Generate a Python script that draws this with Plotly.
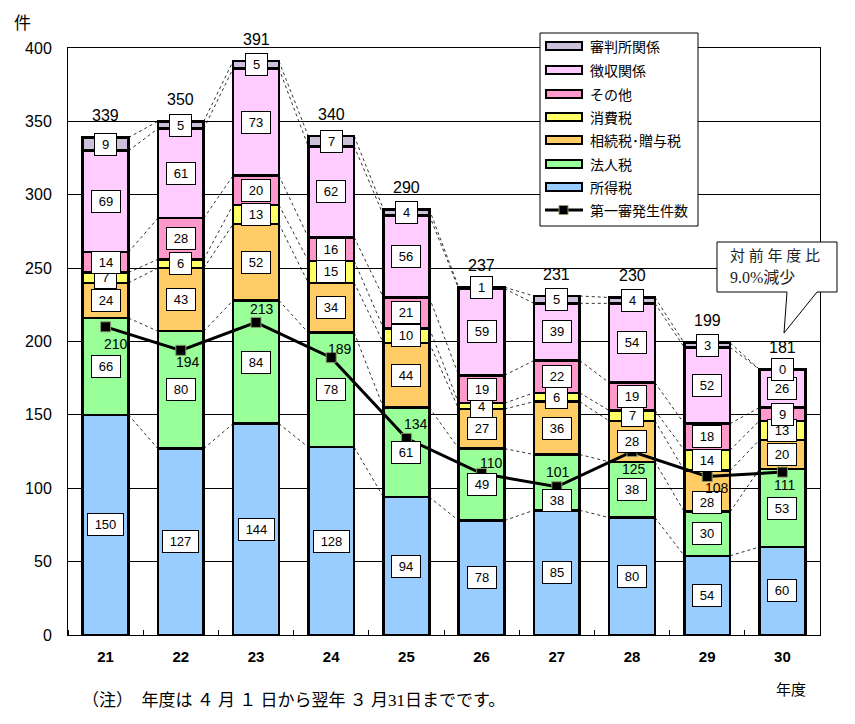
import plotly.graph_objects as go

years = ["21", "22", "23", "24", "25", "26", "27", "28", "29", "30"]
shotoku = [150, 127, 144, 128, 94, 78, 85, 80, 54, 60]
hojin = [66, 80, 84, 78, 61, 49, 38, 38, 30, 53]
sozoku = [24, 43, 52, 34, 44, 27, 36, 28, 28, 20]
shohi = [7, 6, 13, 15, 10, 4, 6, 7, 14, 13]
sonota = [14, 28, 20, 16, 21, 19, 22, 19, 18, 9]
choshu = [69, 61, 73, 62, 56, 59, 39, 54, 52, 26]
shinpan = [9, 5, 5, 7, 4, 1, 5, 4, 3, 0]
totals = [339, 350, 391, 340, 290, 237, 231, 230, 199, 181]
first_instance = [210, 194, 213, 189, 134, 110, 101, 125, 108, 111]
line_name = "第一審発生件数"

series = [
    ("所得税", shotoku, "#99CCFF"),
    ("法人税", hojin, "#99FF99"),
    ("相続税･贈与税", sozoku, "#FFCC66"),
    ("消費税", shohi, "#FFFF66"),
    ("その他", sonota, "#FF99CC"),
    ("徴収関係", choshu, "#FFCCFF"),
    ("審判所関係", shinpan, "#CCC0DA"),
]

# pixel offsets for the line value labels
line_label_shift = [(10, -17), (7, -12), (6, 13), (9, 9), (10, 14),
                    (10, 11), (1, 15), (2, -17), (10, -11), (2, -13)]
# manual vertical nudges (px, negative = down) of some boxed labels: (series index, year index)
label_nudge = {(1, 6): -18, (2, 8): -11}

BAR_W = 0.61
xs = list(range(len(years)))
label_font = dict(family="Liberation Sans, Arial, Noto Sans CJK JP", size=13, color="#000")
PLOT_L, PLOT_T, PLOT_W, PLOT_H = 68, 48, 752, 587


def px(x):
    return (x - PLOT_L) / PLOT_W


def py(y):
    return (PLOT_T + PLOT_H - y) / PLOT_H


fig = go.Figure()
for name, vals, col in series:
    fig.add_trace(go.Bar(
        x=xs, y=vals, name=name, width=BAR_W,
        marker=dict(color=col, line=dict(color="black", width=2.5)),
        hoverinfo="y+name", showlegend=False,
    ))

fig.add_trace(go.Scatter(
    x=xs, y=first_instance, name=line_name, mode="lines+markers",
    line=dict(color="black", width=3),
    marker=dict(symbol="square", size=10, color="black", line=dict(color="#8a9a6a", width=1)),
    showlegend=False,
))

annotations = []
shapes = []

# value labels in white boxes
cum = [0] * len(years)
cum_bounds = []
for si, (name, vals, col) in enumerate(series):
    for i, v in enumerate(vals):
        mid = cum[i] + v / 2
        s = str(v)
        annotations.append(dict(
            x=i, y=mid, text=s, showarrow=False, font=label_font,
            yshift=label_nudge.get((si, i), 0),
            width=7 * len(s) + 8,
            bgcolor="white", bordercolor="black", borderwidth=1, borderpad=3,
        ))
        cum[i] += v
    cum_bounds.append(list(cum))

# dotted series lines between bars
for bounds in cum_bounds:
    for i in range(len(years) - 1):
        shapes.append(dict(
            type="line", xref="x", yref="y",
            x0=i + BAR_W / 2, y0=bounds[i], x1=i + 1 - BAR_W / 2, y1=bounds[i + 1],
            line=dict(color="#333", width=1, dash="dot"), layer="below",
        ))

# totals
for i, t in enumerate(totals):
    annotations.append(dict(
        x=i, y=t, text=str(t), showarrow=False, yshift=22,
        font=dict(family="Liberation Sans, Arial", size=16, color="#000"),
    ))

# line labels
for i, v in enumerate(first_instance):
    dx, dy = line_label_shift[i]
    annotations.append(dict(
        x=i, y=v, text=str(v), showarrow=False, xshift=dx, yshift=dy,
        font=dict(family="Liberation Sans, Arial", size=14, color="#000"),
    ))

# manual legend (paper coordinates)
shapes.append(dict(type="rect", xref="paper", yref="paper",
                   x0=px(540), x1=px(698), y0=py(226), y1=py(33),
                   fillcolor="white", line=dict(color="black", width=1), layer="above"))
legend_items = [(n, c) for n, v, c in reversed(series)]
leg_y = [46, 70, 94, 117, 140, 164, 187]
legend_font = dict(family="Noto Sans CJK JP", size=14, color="#000")
for (name, col), yy in zip(legend_items, leg_y):
    shapes.append(dict(type="rect", xref="paper", yref="paper",
                       x0=px(546), x1=px(582), y0=py(yy + 4), y1=py(yy - 4),
                       fillcolor=col, line=dict(color="black", width=2), layer="above"))
    annotations.append(dict(xref="paper", yref="paper", x=px(588), y=py(yy), xanchor="left",
                            yanchor="middle", text=name, showarrow=False, font=legend_font))
ly = 210
shapes.append(dict(type="line", xref="paper", yref="paper", x0=px(545), x1=px(583),
                   y0=py(ly), y1=py(ly), line=dict(color="black", width=3), layer="above"))
shapes.append(dict(type="rect", xref="paper", yref="paper", x0=px(559), x1=px(568),
                   y0=py(ly + 4.5), y1=py(ly - 4.5), fillcolor="black",
                   line=dict(color="#8a9a6a", width=1), layer="above"))
annotations.append(dict(xref="paper", yref="paper", x=px(588), y=py(ly), xanchor="left",
                        yanchor="middle", text=line_name, showarrow=False, font=legend_font))

# callout bubble (paper coordinates)
path = (f"M {px(717)},{py(242)} L {px(837)},{py(242)} L {px(837)},{py(292)} "
        f"L {px(817)},{py(292)} L {px(784)},{py(333)} L {px(787)},{py(292)} "
        f"L {px(717)},{py(292)} Z")
shapes.append(dict(type="path", xref="paper", yref="paper", path=path,
                   fillcolor="white", line=dict(color="black", width=1), layer="above"))
serif = "Liberation Serif, Noto Sans CJK JP"
annotations.append(dict(xref="paper", yref="paper", x=px(728), y=py(256), xanchor="left",
                        yanchor="middle", text="対 前 年 度 比", showarrow=False, align="left",
                        font=dict(family=serif, size=15, color="#222")))
annotations.append(dict(xref="paper", yref="paper", x=px(728), y=py(277), xanchor="left",
                        yanchor="middle", text="9.0%減少", showarrow=False, align="left",
                        font=dict(family=serif, size=16, color="#222")))

# unit & notes
annotations.append(dict(xref="paper", yref="paper", x=px(22), y=py(22), xanchor="center", yanchor="middle",
                        text="件", showarrow=False,
                        font=dict(family="Noto Sans CJK JP", size=17, color="#000")))
annotations.append(dict(xref="paper", yref="paper", x=px(791), y=py(688), xanchor="center", yanchor="middle",
                        text="年度", showarrow=False,
                        font=dict(family="Noto Sans CJK JP", size=15, color="#000")))
annotations.append(dict(xref="paper", yref="paper", x=px(80), y=py(700), xanchor="left", yanchor="middle",
                        text="（注）　年度は ４ 月 １ 日から翌年 ３ 月31日までです。", showarrow=False,
                        font=dict(family=serif, size=17, color="#000")))

# page body has an 8px margin, so the figure is 8px smaller and margins shifted by 8px
fig.update_layout(
    barmode="stack",
    width=847, height=716,
    margin=dict(l=60, r=35, t=40, b=89),
    paper_bgcolor="white", plot_bgcolor="white",
    showlegend=False,
    annotations=annotations, shapes=shapes,
    font=dict(family="Liberation Sans, Arial, Noto Sans CJK JP"),
)
fig.update_xaxes(
    range=[-0.5, len(years) - 0.5], tickvals=xs, ticktext=[f"<b>{y}</b>" for y in years],
    showline=True, linecolor="black", linewidth=1, mirror=True,
    showgrid=False, ticks="", ticklabelstandoff=8,
    tickfont=dict(family="Liberation Sans, Arial", size=15, color="#000"),
    minor=dict(tick0=0.5, dtick=1, ticks="inside", ticklen=5, tickcolor="black"),
)
fig.update_yaxes(
    range=[0, 400], dtick=50, showgrid=True, gridcolor="black", gridwidth=1,
    showline=True, linecolor="black", linewidth=1, mirror=True,
    ticks="", ticklabelstandoff=12,
    tickfont=dict(family="Liberation Sans, Arial", size=16, color="#000"),
    zeroline=False,
)

fig.write_html("out.html")
